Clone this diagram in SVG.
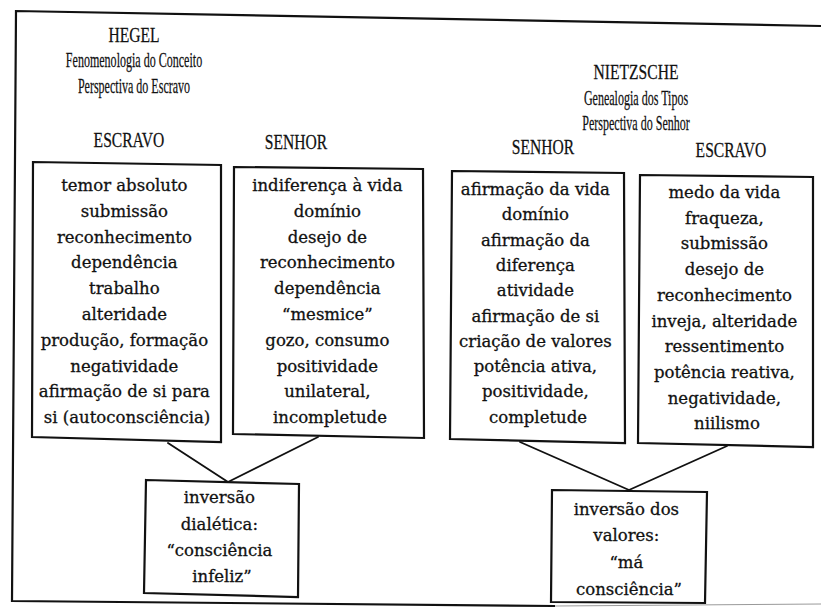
<svg xmlns="http://www.w3.org/2000/svg" width="821" height="612" viewBox="0 0 821 612">
<style>
.h{font-family:"Liberation Serif","Times New Roman",serif;font-size:20px;fill:#111;stroke:#111;stroke-width:0.25;text-anchor:middle}
.s{font-size:21.5px}
.b{font-family:"DejaVu Serif","Liberation Serif",serif;font-size:16.5px;fill:#111;stroke:#111;stroke-width:0.3;text-anchor:middle}
.box{fill:#fff;stroke:#111;stroke-width:2.2;stroke-linejoin:miter}
.c{stroke:#111;stroke-width:1.9;fill:none;stroke-linecap:round}
</style>
<rect width="821" height="612" fill="#fff"/>
<g id="frame">
<polyline points="821,26 16,11 12,601 555,606" fill="none" stroke="#111" stroke-width="2.2"/>
<line x1="555" y1="606" x2="821" y2="604" stroke="#999" stroke-width="1"/>
</g>
<g id="titles">
<text class="h" transform="translate(134,42) scale(0.78,1)">HEGEL</text>
<text class="h s" transform="translate(134,67) scale(0.56,1)">Fenomenologia do Conceito</text>
<text class="h s" transform="translate(134,93) scale(0.56,1)">Perspectiva do Escravo</text>
<text class="h" transform="translate(636,79) scale(0.78,1)">NIETZSCHE</text>
<text class="h s" transform="translate(636,105) scale(0.56,1)">Genealogia dos Tipos</text>
<text class="h s" transform="translate(636,130) scale(0.56,1)">Perspectiva do Senhor</text>
<text class="h" transform="translate(129,147) scale(0.78,1)">ESCRAVO</text>
<text class="h" transform="translate(296,149) scale(0.78,1)">SENHOR</text>
<text class="h" transform="translate(543,154) scale(0.78,1)">SENHOR</text>
<text class="h" transform="translate(731,157) scale(0.78,1)">ESCRAVO</text>
</g>
<g id="connectors">
<line class="c" x1="168" y1="443" x2="228" y2="482"/>
<line class="c" x1="318" y1="437" x2="228" y2="482"/>
<line class="c" x1="520" y1="442" x2="629" y2="490"/>
<line class="c" x1="727" y1="446" x2="629" y2="490"/>
</g>
<g id="hegel-escravo">
<polygon class="box" points="33,162 221,165 221,442 32,437"/>
<text class="b">
<tspan x="127" y="191">temor absoluto</tspan>
<tspan x="127" y="216.8">submissão</tspan>
<tspan x="127" y="242.6">reconhecimento</tspan>
<tspan x="127" y="268.4">dependência</tspan>
<tspan x="127" y="294.2">trabalho</tspan>
<tspan x="127" y="320">alteridade</tspan>
<tspan x="127" y="345.8">produção, formação</tspan>
<tspan x="127" y="371.6">negatividade</tspan>
<tspan x="127" y="397.4">afirmação de si para</tspan>
<tspan x="127" y="423.2">si (autoconsciência)</tspan>
</text>
</g>
<g id="hegel-senhor">
<polygon class="box" points="234,167 423,169 424,438 233,434"/>
<text class="b">
<tspan x="330" y="191">indiferença à vida</tspan>
<tspan x="330" y="216.8">domínio</tspan>
<tspan x="330" y="242.6">desejo de</tspan>
<tspan x="330" y="268.4">reconhecimento</tspan>
<tspan x="330" y="294.2">dependência</tspan>
<tspan x="330" y="320">“mesmice”</tspan>
<tspan x="330" y="345.8">gozo, consumo</tspan>
<tspan x="330" y="371.6">positividade</tspan>
<tspan x="330" y="397.4">unilateral,</tspan>
<tspan x="330" y="423.2">incompletude</tspan>
</text>
</g>
<g id="nietzsche-senhor">
<polygon class="box" points="452,171 624,173 625,443 450,439"/>
<text class="b">
<tspan x="538" y="195">afirmação da vida</tspan>
<tspan x="538" y="220.3">domínio</tspan>
<tspan x="538" y="245.6">afirmação da</tspan>
<tspan x="538" y="270.9">diferença</tspan>
<tspan x="538" y="296.2">atividade</tspan>
<tspan x="538" y="321.5">afirmação de si</tspan>
<tspan x="538" y="346.8">criação de valores</tspan>
<tspan x="538" y="372.1">potência ativa,</tspan>
<tspan x="538" y="397.4">positividade,</tspan>
<tspan x="538" y="422.7">completude</tspan>
</text>
</g>
<g id="nietzsche-escravo">
<polygon class="box" points="640,175 813,177 813,447 638,443"/>
<text class="b">
<tspan x="727" y="198">medo da vida</tspan>
<tspan x="727" y="223.7">fraqueza,</tspan>
<tspan x="727" y="249.4">submissão</tspan>
<tspan x="727" y="275.1">desejo de</tspan>
<tspan x="727" y="300.8">reconhecimento</tspan>
<tspan x="727" y="326.5">inveja, alteridade</tspan>
<tspan x="727" y="352.2">ressentimento</tspan>
<tspan x="727" y="377.9">potência reativa,</tspan>
<tspan x="727" y="403.6">negatividade,</tspan>
<tspan x="727" y="429.3">niilismo</tspan>
</text>
</g>
<g id="inversao-dialetica">
<polygon class="box" points="146,480 299,484 298,597 144,593"/>
<text class="b">
<tspan x="222" y="503">inversão</tspan>
<tspan x="222" y="530">dialética:</tspan>
<tspan x="222" y="556">“consciência</tspan>
<tspan x="222" y="582">infeliz”</tspan>
</text>
</g>
<g id="inversao-valores">
<polygon class="box" points="552,490 707,492 705,603 551,602"/>
<text class="b">
<tspan x="629" y="515">inversão dos</tspan>
<tspan x="629" y="541">valores:</tspan>
<tspan x="629" y="568">“má</tspan>
<tspan x="629" y="595">consciência”</tspan>
</text>
</g>
</svg>
